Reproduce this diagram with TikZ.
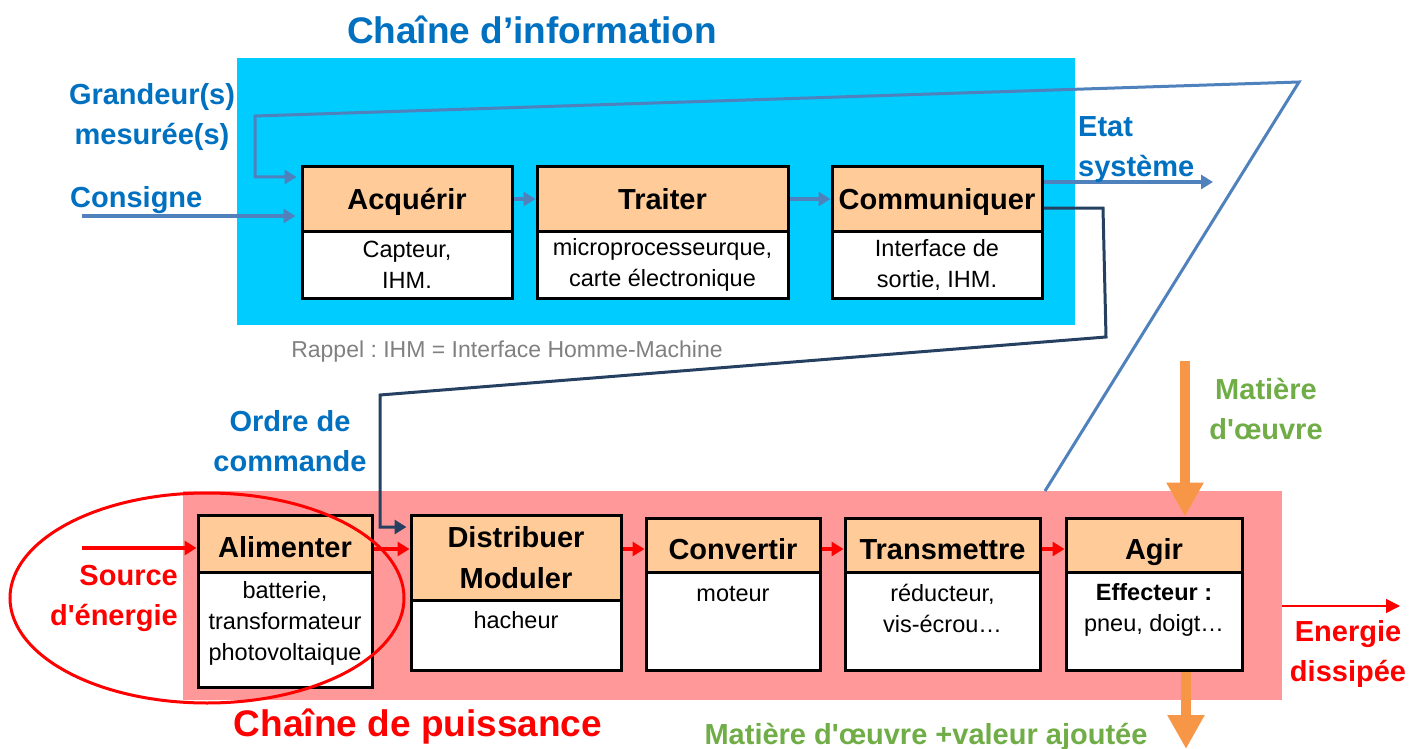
\documentclass[tikz,border=0pt]{standalone}
\usepackage{fontspec}
\setmainfont{Liberation Sans}
\usetikzlibrary{arrows.meta,shapes.geometric}
\definecolor{infobg}{HTML}{00CCFF}
\definecolor{powbg}{HTML}{FF9999}
\definecolor{peach}{HTML}{FFCC99}
\definecolor{titleblue}{HTML}{0070C0}
\definecolor{linkblue}{HTML}{4F81BD}
\definecolor{navy}{HTML}{254061}
\definecolor{leafgreen}{HTML}{70AD47}
\definecolor{matorange}{HTML}{F79646}
\definecolor{notegrey}{HTML}{808080}
\frenchspacing

\begin{document}
\begin{tikzpicture}[x=1pt,y=-1pt,
  zone/.style={inner sep=0, outer sep=0},
  hdr/.style={draw=black, line width=3pt, fill=peach, inner sep=0, align=center,
              font=\fontsize{29}{41}\selectfont\bfseries},
  hdrone/.style={hdr, text height=24pt, text depth=3pt},
  hdrlow/.style={hdr, text height=28pt, text depth=0pt},
  cnt/.style={draw=black, line width=3pt, fill=white, inner sep=0, align=center,
              font=\fontsize{23.5}{31}\selectfont},
  body/.style={inner sep=0, align=center, font=\fontsize{23.5}{31}\selectfont},
  big/.style={inner sep=0, align=center, font=\fontsize{37}{42}\selectfont\bfseries},
  lbl/.style={inner sep=0, font=\fontsize{29}{40}\selectfont\bfseries},
  infoarrow/.style={draw=linkblue, line width=3.5pt, -{Triangle[length=12pt,width=14pt]}},
  powarrow/.style={draw=red, line width=4pt, -{Triangle[length=12pt,width=14pt]}},
  matarrow/.style={draw=matorange, line width=10pt, -{Triangle[length=34pt,width=35pt]}},
]
\useasboundingbox (0,0) rectangle (1422,749);

% background zones
\node[zone, fill=powbg, minimum width=1099pt, minimum height=209pt] (pw) at (732.5,595.5) {};
\node[zone, fill=infobg, minimum width=838pt, minimum height=267pt] (iw) at (656,191.5) {};

% feedback loop from the power chain to the acquisition block
\coordinate (fb0) at (1045,491);
\coordinate (apex) at (1299,82);
\coordinate (fb1) at (255,116);
\coordinate (fb2) at (255,177);

% order line from Communiquer to Distribuer
\coordinate (n1) at (1103,208);
\coordinate (n2) at (1106,337);
\coordinate (n3) at (380,395);
\coordinate (n4) at (380,527);

% information chain
\node[hdrone, minimum width=210pt, minimum height=64pt] (hAc) at (407,199) {Acquérir};
\node[cnt, minimum width=210pt, minimum height=67pt] (cAc) at (407,264.5) {Capteur,\\IHM.};
\node[hdrone, minimum width=251pt, minimum height=64pt] (hTr) at (662.5,199) {Traiter};
\node[cnt, minimum width=251pt, minimum height=67pt] (cTr) at (662.5,264.5) {microprocesseurque,\\carte électronique};
\node[hdrone, minimum width=210pt, minimum height=64pt] (hCo) at (937,199) {Communiquer};
\node[cnt, minimum width=210pt, minimum height=67pt] (cCo) at (937,264.5) {Interface de\\sortie, IHM.};

\draw[linkblue, line width=3pt, -{Triangle[length=12pt,width=14pt]}]
  (fb0) -- (apex) -- (fb1) -- (fb2) -- ([xshift=-4pt]fb2 -| hAc.west);

% power chain
\node[hdrlow, minimum width=174pt, minimum height=57pt] (hAl) at (285,543.5) {Alimenter};
\node[cnt, minimum width=174pt, minimum height=115pt] (cAl) at (285,629.5) {};
\node[body] (tAl) at (285,623) {batterie,\\transformateur\\photovoltaique};
\node[hdr, minimum width=210pt, minimum height=85pt] (hDi) at (516,557.5) {Distribuer\\Moduler};
\node[cnt, minimum width=210pt, minimum height=70pt] (cDi) at (516,635) {};
\node[body] (tDi) at (516,620) {hacheur};
\node[hdrlow, minimum width=174pt, minimum height=54pt] (hCv) at (733,545) {Convertir};
\node[cnt, minimum width=174pt, minimum height=98pt] (cCv) at (733,621) {};
\node[body] (tCv) at (733,594) {moteur};
\node[hdrlow, minimum width=195pt, minimum height=54pt] (hTm) at (942.5,545) {Transmettre};
\node[cnt, minimum width=195pt, minimum height=98pt] (cTm) at (942.5,621) {};
\node[body] (tTm) at (942.5,608.5) {réducteur,\\vis-écrou…};
\node[hdrlow, minimum width=176pt, minimum height=54pt] (hAg) at (1154,545) {Agir};
\node[cnt, minimum width=176pt, minimum height=98pt] (cAg) at (1154,621) {};
\node[body] (tAg) at (1154,609.5) {\textbf{Effecteur :}\\pneu, doigt…};

\draw[navy, line width=3pt, -{Triangle[length=12pt,width=14pt]}]
  (n1 -| hCo.east) -- (n1) -- (n2) -- (n3) -- (n4) -- ([xshift=-3pt]n4 -| hDi.west);

% information arrows
\coordinate (cons) at (82,216);
\coordinate (etat) at (1213,182);
\draw[infoarrow] (cons) -- ([xshift=-5pt]cons -| hAc.west);
\draw[infoarrow] (hAc.east) -- (hTr.west);
\draw[infoarrow] (hTr.east) -- (hCo.west);
\draw[infoarrow] (etat -| hCo.east) -- (etat);

% energy arrows
\coordinate (rl) at (0,549);
\coordinate (srcin) at (82,548);
\coordinate (ed) at (1400,606);
\draw[powarrow] (srcin) -- (srcin -| hAl.west);
\draw[powarrow] (hAl.east |- rl) -- (hDi.west |- rl);
\draw[powarrow] (hDi.east |- rl) -- (hCv.west |- rl);
\draw[powarrow] (hCv.east |- rl) -- (hTm.west |- rl);
\draw[powarrow] (hTm.east |- rl) -- (hAg.west |- rl);
\draw[draw=red, line width=1.5pt, -{Triangle[length=14pt,width=14pt]}] (pw.east |- ed) -- (ed);

% material flow
\coordinate (mo) at (1185,361);
\coordinate (mo2) at (1186,749);
\draw[matarrow] (mo) -- (mo |- hAg.north);
\draw[matarrow] (cAg.south -| mo2) -- (mo2);

% energy source ring
\node[ellipse, draw=red, line width=3pt, minimum width=394pt, minimum height=210pt, inner sep=0] (ring) at (207,598) {};

% labels
\node[big, text=titleblue] (ttlI) at (532,30) {Chaîne d’information};
\node[big, text=red] (ttlP) at (418,727) {Chaîne de puissance};
\node[lbl, text=titleblue, align=center] (lgr) at (152,117) {Grandeur(s)\\mesurée(s)};
\node[lbl, text=titleblue, anchor=west] (lcs) at (70,200) {Consigne};
\node[lbl, text=titleblue, align=left, anchor=west] (let) at (1078,150) {Etat\\système};
\node[inner sep=0, text=notegrey, font=\fontsize{23}{28}\selectfont] (lrp) at (507,352) {Rappel : IHM = Interface Homme-Machine};
\node[lbl, text=titleblue, align=center] (lor) at (290,441) {Ordre de\\commande};
\node[lbl, text=red, align=right, anchor=east] (lsr) at (178,598) {Source\\d\textquotesingle{}énergie};
\node[lbl, text=red, align=center] (led) at (1348,654) {Energie\\dissipée};
\node[lbl, text=leafgreen, align=center] (lmo) at (1266,409) {Matière\\d\textquotesingle{}œuvre};
\node[lbl, text=leafgreen] (lmv) at (926,737) {Matière d\textquotesingle{}œuvre +valeur ajoutée};
\end{tikzpicture}
\end{document}
